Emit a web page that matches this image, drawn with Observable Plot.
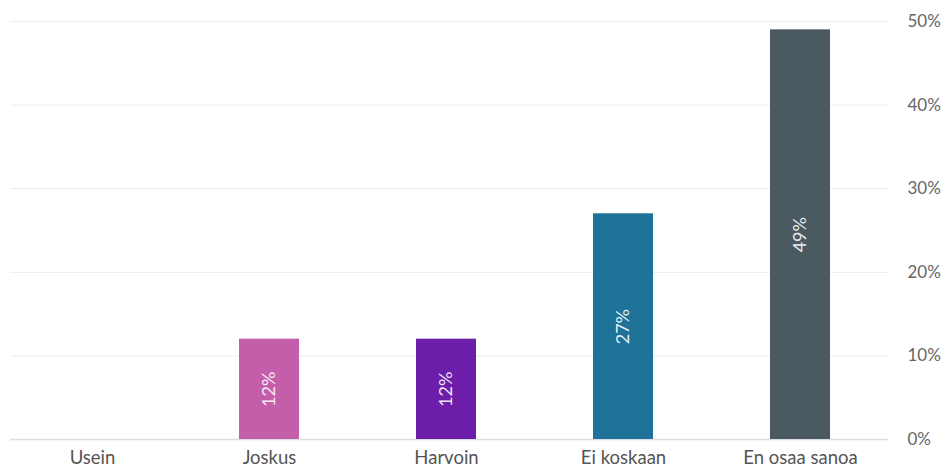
<!DOCTYPE html>
<html>
<head>
<meta charset="utf-8">
<script src="https://cdn.jsdelivr.net/npm/d3@7"></script>
<script src="https://cdn.jsdelivr.net/npm/@observablehq/plot@0.6"></script>
<style>
  html, body { margin: 0; padding: 0; background: #fff; }
  #chart svg { display: block; }
</style>
</head>
<body>
<div id="chart"></div>
<script>
const categories = ["Usein", "Joskus", "Harvoin", "Ei koskaan", "En osaa sanoa"];
const values = [0, 12, 12, 27, 49];
const colors = ["#c45eab", "#c45eab", "#6c1ea8", "#1f7399", "#4a5a60"];
const yTicks = [0, 10, 20, 30, 40, 50];

const data = categories.map((c, i) => ({ category: c, value: values[i], color: colors[i] }));

const chart = Plot.plot({
  width: 949,
  height: 473,
  marginLeft: 3,
  marginRight: 59,
  marginTop: 21,
  marginBottom: 34,
  style: { fontFamily: "Lato, 'Noto Sans', sans-serif", background: "#fff" },
  x: { domain: categories, paddingInner: 0.66, paddingOuter: 0.333, label: null },
  y: { domain: [0, 50], label: null },
  marks: [
    Plot.ruleY(yTicks.filter(d => d > 0), { stroke: "#ececf0", strokeWidth: 1, insetLeft: 7, insetRight: 2 }),
    Plot.ruleY([0], { stroke: "#dcdce6", strokeWidth: 1.5, insetLeft: 7, insetRight: 2 }),
    Plot.barY(data.filter(d => d.value > 0), { x: "category", y: "value", fill: "color" }),
    Plot.text(data.filter(d => d.value > 0), {
      x: "category",
      y: d => d.value / 2,
      text: d => d.value + "%",
      rotate: -90,
      fill: "#ffffff",
      fillOpacity: 0.9,
      fontSize: 18
    }),
    Plot.axisY({
      anchor: "right",
      ticks: yTicks,
      tickFormat: d => d + "%",
      tickSize: 0,
      tickPadding: 17,
      fontSize: 17,
      color: "#666",
      label: null
    }),
    Plot.axisX({
      tickSize: 0,
      tickPadding: 11,
      fontSize: 18.5,
      color: "#555",
      label: null
    })
  ]
});
document.getElementById("chart").appendChild(chart);
</script>
</body>
</html>
